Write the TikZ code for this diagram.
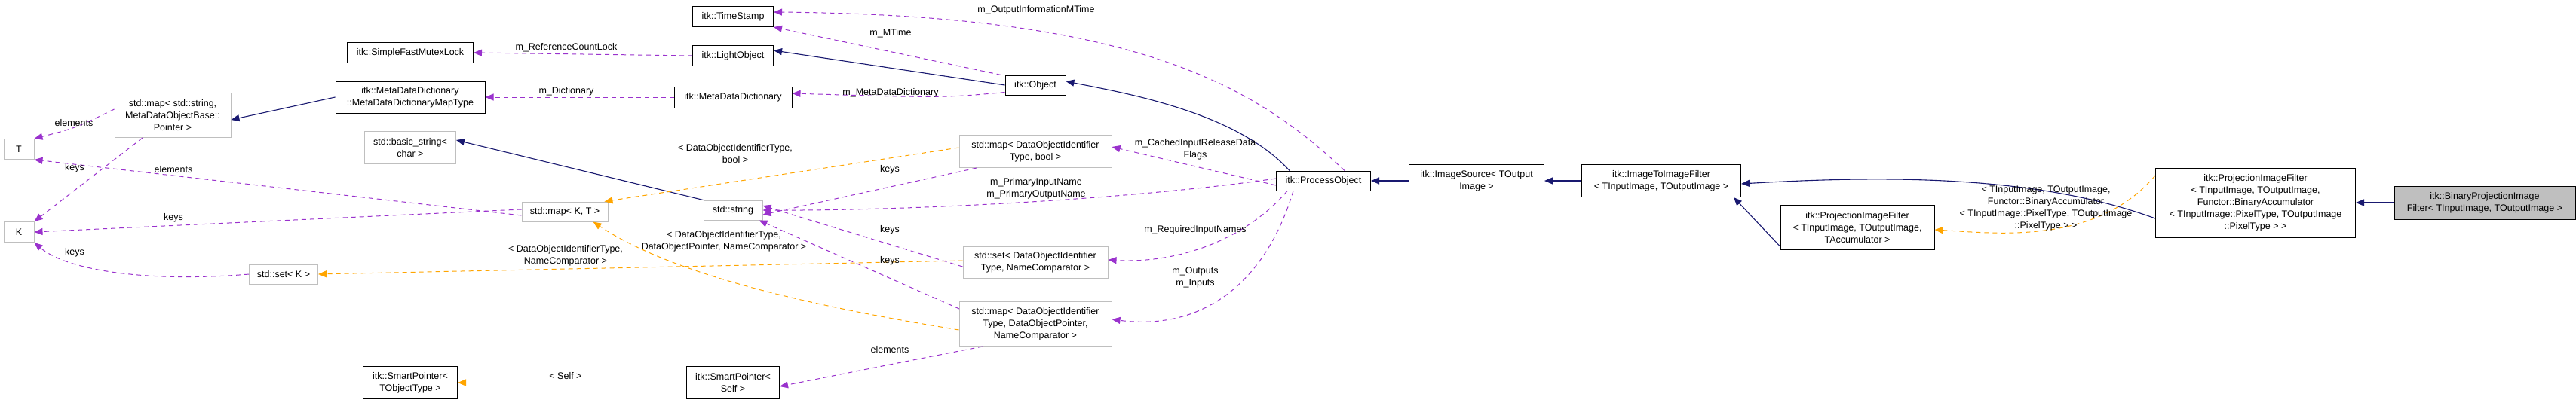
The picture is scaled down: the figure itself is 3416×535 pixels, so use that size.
\documentclass[tikz,border=0pt]{standalone}
\usepackage{fontspec}
\setmainfont{Liberation Sans}
\usetikzlibrary{arrows.meta}
\definecolor{usec}{RGB}{154,50,205}
\definecolor{tplc}{RGB}{255,165,0}
\definecolor{inhc}{RGB}{25,25,112}
\definecolor{gb}{RGB}{191,191,191}
\begin{document}
\begin{tikzpicture}[x=1pt,y=-1pt,
  f/.style={font=\fontsize{12.5}{16}\selectfont},
  box/.style={f,draw=black,line width=1pt,fill=white,inner sep=0pt,align=center},
  gbox/.style={box,draw=gb},
  lbl/.style={f,inner sep=0pt,align=center},
  use/.style={draw=usec,color=usec,dash pattern=on 6pt off 5pt,line width=1pt,-{Triangle[length=11pt,width=9pt]}},
  tpl/.style={use,draw=tplc,color=tplc},
  inh/.style={draw=inhc,color=inhc,line width=1.1pt,-{Triangle[length=11pt,width=9pt]}}
]
\useasboundingbox (0,0) rectangle (3416,535);
% nodes
\node[gbox,minimum width=40,minimum height=27] (T) at (25,198) {T};
\node[gbox,minimum width=40,minimum height=27] (K) at (25,308) {K};
\node[gbox,minimum width=154,minimum height=59] (mapstr) at (229,153) {std::map\textless{} std::string,\\MetaDataObjectBase::\\Pointer \textgreater{}};
\node[gbox,minimum width=91,minimum height=26] (setK) at (376,364) {std::set\textless{} K \textgreater{}};
\node[box,minimum width=167,minimum height=27] (mutex) at (544,70) {itk::SimpleFastMutexLock};
\node[box,minimum width=198,minimum height=42] (maptype) at (544,129) {itk::MetaDataDictionary\\::MetaDataDictionaryMapType};
\node[gbox,minimum width=121,minimum height=43] (bstr) at (544,196) {std::basic\_string\textless{}\\char \textgreater{}};
\node[box,minimum width=125,minimum height=43] (spT) at (544,508) {itk::SmartPointer\textless{}\\TObjectType \textgreater{}};
\node[box,minimum width=107,minimum height=27] (ts) at (972,22) {itk::TimeStamp};
\node[box,minimum width=107,minimum height=27] (lo) at (972,74) {itk::LightObject};
\node[box,minimum width=156,minimum height=28] (mdd) at (972,129) {itk::MetaDataDictionary};
\node[gbox,minimum width=114,minimum height=26] (mapKT) at (749,281) {std::map\textless{} K, T \textgreater{}};
\node[gbox,minimum width=78,minimum height=26] (str) at (972,279) {std::string};
\node[box,minimum width=123,minimum height=43] (spS) at (972,508) {itk::SmartPointer\textless{}\\Self \textgreater{}};
\node[box,minimum width=80,minimum height=26] (obj) at (1373,113) {itk::Object};
\node[gbox,minimum width=202,minimum height=43] (mapB) at (1373,201) {std::map\textless{} DataObjectIdentifier\\Type, bool \textgreater{}};
\node[gbox,minimum width=192,minimum height=42] (setN) at (1373,348) {std::set\textless{} DataObjectIdentifier\\Type, NameComparator \textgreater{}};
\node[gbox,minimum width=202,minimum height=59] (mapP) at (1373,430) {std::map\textless{} DataObjectIdentifier\\Type, DataObjectPointer,\\NameComparator \textgreater{}};
\node[box,minimum width=125,minimum height=26] (po) at (1755,240) {itk::ProcessObject};
\node[box,minimum width=179,minimum height=43] (is) at (1958,240) {itk::ImageSource\textless{} TOutput\\Image \textgreater{}};
\node[box,minimum width=211,minimum height=43] (i2i) at (2203,240) {itk::ImageToImageFilter\\\textless{} TInputImage, TOutputImage \textgreater{}};
\node[box,minimum width=204,minimum height=59] (pifA) at (2463,302) {itk::ProjectionImageFilter\\\textless{} TInputImage, TOutputImage,\\TAccumulator \textgreater{}};
\node[box,minimum width=265,minimum height=92] (pifB) at (2991,269) {itk::ProjectionImageFilter\\\textless{} TInputImage, TOutputImage,\\Functor::BinaryAccumulator\\\textless{} TInputImage::PixelType, TOutputImage\\::PixelType \textgreater{} \textgreater{}};
\node[box,fill=gb,minimum width=240,minimum height=44] (bin) at (3295,269) {itk::BinaryProjectionImage\\Filter\textless{} TInputImage, TOutputImage \textgreater{}};
% inheritance
\draw[inh] (maptype.west) -- ([yshift=-6pt]mapstr.east);
\draw[inh] (str.north west) -- ([yshift=10pt]bstr.east);
\draw[inh] (obj.west) -- ([yshift=7pt]lo.east);
\draw[inh] ([xshift=-45pt]po.north) .. controls (1640,150) and (1500,125) .. ([yshift=5pt]obj.east);
\draw[inh] (is.west) -- (po.east);
\draw[inh] (i2i.west) -- (is.east);
\draw[inh] ([yshift=-21pt]pifB.west) .. controls (2700,232) and (2500,233) .. ([yshift=-4pt]i2i.east);
\draw[inh] ([yshift=-25pt]pifA.west) -- ([xshift=-10pt]i2i.south east);
\draw[inh] (bin.west) -- (pifB.east);
% usage
\draw[use] ([yshift=8pt]mapstr.west) .. controls (100,170) .. (T.north east);
\draw[use] ([xshift=-40pt]mapstr.south) -- (K.north east);
\draw[use] ([yshift=-5pt]mapKT.west) -- (T.south east);
\draw[use] ([yshift=3pt]mapKT.west) -- (K.east);
\draw[use] (setK.west) .. controls (200,375) and (90,360) .. (K.south east);
\draw[use] (lo.west) -- (mutex.east);
\draw[use] (mdd.west) -- (maptype.east);
\draw[use] ([xshift=-5pt]obj.north west) -- (ts.south east);
\draw[use] ([xshift=-35pt]po.north east) .. controls (1660,110) and (1500,20) .. ([yshift=6pt]ts.east);
\draw[use] ([yshift=4pt]obj.south west) .. controls (1250,130) .. ([yshift=5pt]mdd.east);
\draw[use] ([xshift=-78pt]mapB.south) -- ([yshift=-6pt]str.east);
\draw[use] ([yshift=3pt]po.west) .. controls (1500,265) and (1200,280) .. (str.east);
\draw[use] ([yshift=-6pt]setN.west) -- ([yshift=6pt]str.east);
\draw[use] ([xshift=-101pt,yshift=-10pt]mapP.north) -- ([xshift=-5pt]str.south east);
\draw[use] ([xshift=-70pt]mapP.south) .. controls (1200,480) .. ([yshift=-5pt]spS.east);
\draw[use] ([yshift=-6pt]po.west) -- ([yshift=6pt]mapB.east);
\draw[use] ([xshift=-48pt]po.south) .. controls (1650,320) and (1560,350) .. ([yshift=3pt]setN.east);
\draw[use] ([xshift=-40pt]po.south) .. controls (1680,370) and (1600,440) .. ([yshift=6pt]mapP.east);
% templates
\draw[tpl] ([yshift=5pt]mapB.west) -- ([xshift=-5pt]mapKT.north east);
\draw[tpl] ([yshift=-8pt]mapP.west) .. controls (1100,410) and (900,370) .. ([xshift=-20pt]mapKT.south east);
\draw[tpl] ([yshift=2pt]setN.west) -- (setK.east);
\draw[tpl] (spS.west) -- (spT.east);
\draw[tpl] ([yshift=36pt]pifB.west) .. controls (2780,325) and (2650,310) .. ([yshift=-3pt]pifA.east);
% labels
\node[lbl] (l1) at (98,163) {elements};
\node[lbl] (l2) at (99,223) {keys};
\node[lbl] (l3) at (230,225) {elements};
\node[lbl] (l4) at (230,289) {keys};
\node[lbl] (l5) at (99,335) {keys};
\node[lbl] (l6) at (751,63) {m\_ReferenceCountLock};
\node[lbl] (l7) at (751,121) {m\_Dictionary};
\node[lbl] (l8) at (1181,44) {m\_MTime};
\node[lbl] (l9) at (1374,13) {m\_OutputInformationMTime};
\node[lbl] (l10) at (1181,123) {m\_MetaDataDictionary};
\node[lbl] (l11) at (1180,225) {keys};
\node[lbl] (l12) at (1374,250) {m\_PrimaryInputName\\m\_PrimaryOutputName};
\node[lbl] (l13) at (1180,305) {keys};
\node[lbl] (l14) at (1180,346) {keys};
\node[lbl] (l15) at (1180,464) {elements};
\node[lbl] (l16) at (1585,198) {m\_CachedInputReleaseData\\Flags};
\node[lbl] (l17) at (1585,305) {m\_RequiredInputNames};
\node[lbl] (l18) at (1585,368) {m\_Outputs\\m\_Inputs};
\node[lbl] (l19) at (975,204) {\textless{} DataObjectIdentifierType,\\bool \textgreater{}};
\node[lbl] (l20) at (960,320) {\textless{} DataObjectIdentifierType,\\DataObjectPointer, NameComparator \textgreater{}};
\node[lbl] (l21) at (750,339) {\textless{} DataObjectIdentifierType,\\NameComparator \textgreater{}};
\node[lbl] (l22) at (750,499) {\textless{} Self \textgreater{}};
\node[lbl] (l23) at (2713,276) {\textless{} TInputImage, TOutputImage,\\Functor::BinaryAccumulator\\\textless{} TInputImage::PixelType, TOutputImage\\::PixelType \textgreater{} \textgreater{}};
\end{tikzpicture}
\end{document}
